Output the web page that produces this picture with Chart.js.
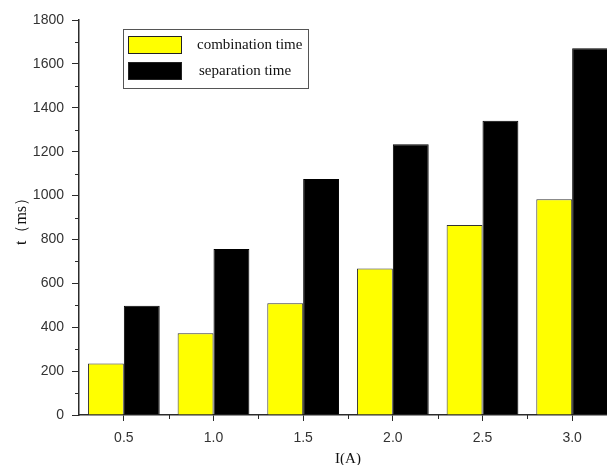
<!DOCTYPE html>
<html>
<head>
<meta charset="utf-8">
<script src="https://cdn.jsdelivr.net/npm/chart.js@4.4.1/dist/chart.umd.min.js"></script>
<style>
  html, body { margin: 0; padding: 0; background: #fff; overflow: hidden; }
  #wrap { width: 640px; height: 465px; }
</style>
</head>
<body>
<div id="wrap"><canvas id="c" width="640" height="465"></canvas></div>
<script>
// Current settings (A)
const currents = ['0.5', '1.0', '1.5', '2.0', '2.5', '3.0'];
// Measured times (ms)
const combinationTime = [235, 372, 509, 668, 866, 983];
const separationTime = [498, 756, 1075, 1234, 1341, 1671];
const yTicks = [0, 200, 400, 600, 800, 1000, 1200, 1400, 1600, 1800];
const yMinorTicks = [100, 300, 500, 700, 900, 1100, 1300, 1500, 1700];

const axisColor = '#2b2b2b';

// Short minor tick marks on both axes
const minorTicks = {
  id: 'minorTicks',
  afterDraw(chart) {
    const ctx = chart.ctx;
    const x = chart.scales.x, y = chart.scales.y;
    ctx.save();
    ctx.strokeStyle = axisColor;
    ctx.lineWidth = 1;
    ctx.beginPath();
    yMinorTicks.forEach(v => {
      const py = Math.round(y.getPixelForValue(v)) + 0.5;
      ctx.moveTo(x.left - 4, py);
      ctx.lineTo(x.left, py);
    });
    for (let i = 0; i < currents.length - 1; i++) {
      const px = Math.round((x.getPixelForTick(i) + x.getPixelForTick(i + 1)) / 2) + 0.5;
      ctx.moveTo(px, y.bottom);
      ctx.lineTo(px, y.bottom + 4);
    }
    ctx.stroke();
    ctx.restore();
  }
};

// Boxed legend inside the plot area
const boxLegend = {
  id: 'boxLegend',
  afterDraw(chart) {
    const ctx = chart.ctx;
    ctx.save();
    ctx.strokeStyle = '#555';
    ctx.lineWidth = 1;
    ctx.strokeRect(123.5, 29.5, 185, 59);
    const rows = [{ y: 36, tx: 197 }, { y: 62, tx: 199 }];
    chart.data.datasets.forEach((ds, i) => {
      const r = rows[i];
      ctx.fillStyle = ds.backgroundColor;
      ctx.fillRect(128, r.y, 54, 18);
      ctx.strokeStyle = '#222';
      ctx.strokeRect(128.5, r.y + 0.5, 53, 17);
      ctx.fillStyle = '#111';
      ctx.font = '15px "Liberation Serif"';
      ctx.textBaseline = 'middle';
      ctx.fillText(ds.label, r.tx, r.y + 9);
    });
    ctx.restore();
  }
};

new Chart(document.getElementById('c'), {
  type: 'bar',
  data: {
    labels: currents,
    datasets: [
      {
        label: 'combination time',
        data: combinationTime,
        backgroundColor: '#ffff00',
        borderColor: '#333',
        borderWidth: 1,
        categoryPercentage: 0.8,
        barPercentage: 1.0
      },
      {
        label: 'separation time',
        data: separationTime,
        backgroundColor: '#000000',
        borderColor: '#000',
        borderWidth: 1,
        categoryPercentage: 0.8,
        barPercentage: 1.0
      }
    ]
  },
  options: {
    responsive: false,
    animation: false,
    layout: { padding: { top: 20, right: 23, left: 0, bottom: 0 } },
    plugins: {
      legend: { display: false },
      tooltip: { enabled: false }
    },
    scales: {
      x: {
        type: 'category',
        offset: true,
        grid: {
          display: true,
          offset: false,
          drawOnChartArea: false,
          drawTicks: true,
          tickLength: 6,
          tickColor: axisColor,
          color: axisColor
        },
        border: { display: true, color: axisColor, width: 1.5 },
        ticks: {
          color: '#333',
          padding: 9,
          font: { family: '"Liberation Sans"', size: 14 }
        },
        title: {
          display: true,
          text: 'I(A)',
          color: '#111',
          padding: { top: 0, bottom: -2 },
          font: { family: '"Liberation Serif"', size: 15, lineHeight: 1 }
        },
        afterFit(scale) { scale.height = 50; }
      },
      y: {
        min: 0,
        max: 1800,
        afterBuildTicks(scale) { scale.ticks = yTicks.map(v => ({ value: v })); },
        grid: {
          display: true,
          drawOnChartArea: false,
          drawTicks: true,
          tickLength: 7,
          tickColor: axisColor,
          color: axisColor
        },
        border: { display: true, color: axisColor, width: 1.5 },
        ticks: {
          color: '#333',
          padding: 8,
          font: { family: '"Liberation Sans"', size: 14 },
          callback: v => String(v)
        },
        title: {
          display: true,
          text: 't（ms）',
          color: '#111',
          padding: { top: 14, bottom: 0 },
          font: { family: '"Liberation Serif"', size: 16, lineHeight: 1 }
        },
        afterFit(scale) { scale.width = 79; }
      }
    }
  },
  plugins: [minorTicks, boxLegend]
});
</script>
</body>
</html>
